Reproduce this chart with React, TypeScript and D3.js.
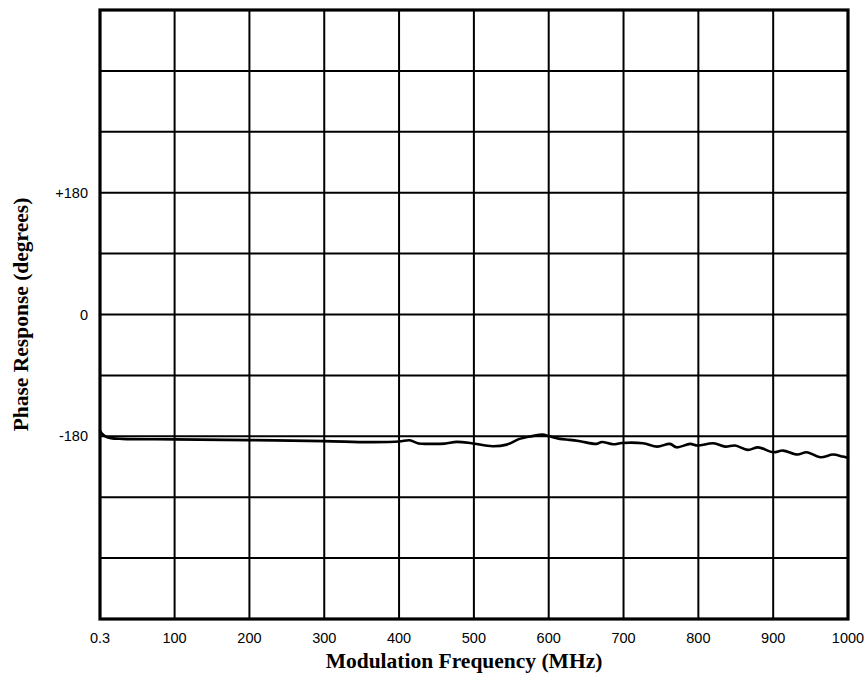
import React from "react";
import * as d3 from "d3";

const freqMHz = [0.3, 3, 8, 15, 30, 100, 200, 300, 360, 400, 414, 426, 441, 461, 477, 497, 525, 544, 561, 578, 592, 600, 615, 628, 642, 664, 671, 686, 698, 726, 745, 762, 771, 789, 799, 820, 836, 849, 866, 880, 900, 913, 932, 945, 963, 980, 993, 1000];
const phaseDeg = [-171.6, -176, -180.4, -182.7, -183.8, -184.6, -185.6, -187.1, -188.6, -187.8, -185.8, -190.6, -191.2, -190.8, -188.3, -190.3, -194.8, -192.3, -183.8, -179.7, -177.5, -179.7, -183.8, -185.3, -187.4, -191.2, -188.4, -191.8, -189.8, -190.3, -195.2, -191.2, -196.3, -191.2, -193.7, -190.3, -195.2, -193.7, -200.1, -196.3, -203.6, -201.1, -207, -203.6, -211, -207, -210, -211.9];

const xTickValues = [0.3, 100, 200, 300, 400, 500, 600, 700, 800, 900, 1000];
const xTickLabels = ["0.3", "100", "200", "300", "400", "500", "600", "700", "800", "900", "1000"];
const yGridValues = [-450, -360, -270, -180, -90, 0, 90, 180, 270, 360, 450];
const yTickValues = [180, 0, -180];
const yTickLabels = ["+180", "0", "-180"];

const xTitle = "Modulation Frequency (MHz)";
const yTitle = "Phase Response (degrees)";

const W = 867;
const H = 685;
const M = { left: 100, right: 19, top: 10, bottom: 66 };

export default function App() {
  const x = d3.scaleLinear().domain([0.3, 1000]).range([M.left, W - M.right]);
  const y = d3.scaleLinear().domain([-450, 450]).range([H - M.bottom, M.top]);
  const pts = freqMHz.map((f, i) => [f, phaseDeg[i]] as [number, number]);
  const line = d3
    .line<[number, number]>()
    .x((d) => x(d[0]))
    .y((d) => y(d[1]))
    .curve(d3.curveCatmullRom.alpha(0.5));

  const x0 = x.range()[0];
  const x1 = x.range()[1];
  const yTop = y.range()[1];
  const yBot = y.range()[0];

  return (
    <div style={{ position: "absolute", left: 0, top: 0 }}>
      <svg width={W} height={H} style={{ display: "block", background: "#fff" }}>
        {xTickValues.map((v, i) => (
          <line key={"vx" + i} x1={x(v)} x2={x(v)} y1={yTop} y2={yBot} stroke="#000" strokeWidth={2} />
        ))}
        {yGridValues.map((v, i) => (
          <line key={"hy" + i} x1={x0} x2={x1} y1={y(v)} y2={y(v)} stroke="#000" strokeWidth={2} />
        ))}
        <path d={line(pts) || ""} fill="none" stroke="#000" strokeWidth={2.6} strokeLinejoin="round" strokeLinecap="round" />
        <rect x={x0} y={yTop} width={x1 - x0} height={yBot - yTop} fill="none" stroke="#000" strokeWidth={3.2} />
        {xTickValues.map((v, i) => (
          <text key={"xt" + i} x={x(v)} y={643} textAnchor="middle" fontFamily="'Liberation Sans', Arial, sans-serif" fontSize={14.5} fill="#000">
            {xTickLabels[i]}
          </text>
        ))}
        {yTickValues.map((v, i) => (
          <text key={"yt" + i} x={88} y={y(v)} dy="0.35em" textAnchor="end" fontFamily="'Liberation Sans', Arial, sans-serif" fontSize={14.5} fill="#000">
            {yTickLabels[i]}
          </text>
        ))}
        <text x={464} y={668} textAnchor="middle" fontFamily="'Liberation Serif', 'Times New Roman', serif" fontWeight="bold" fontSize={21.5} fill="#000">
          {xTitle}
        </text>
        <text transform={`translate(28, ${(yTop + yBot) / 2}) rotate(-90)`} textAnchor="middle" fontFamily="'Liberation Serif', 'Times New Roman', serif" fontWeight="bold" fontSize={21.5} fill="#000">
          {yTitle}
        </text>
      </svg>
    </div>
  );
}
